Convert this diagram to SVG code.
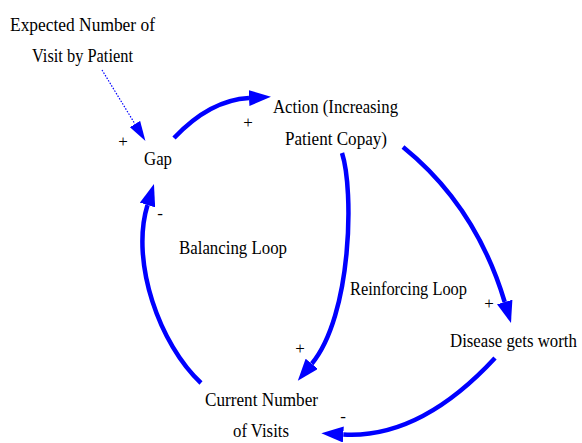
<svg xmlns="http://www.w3.org/2000/svg" width="582" height="443" viewBox="0 0 582 443">
<defs>
<style>
text{font-family:"Liberation Serif","Liberation Sans Narrow",serif;font-size:19px;fill:#000}
.sg{font-size:17px}
.arc{fill:none;stroke:#0000ff;stroke-width:4.5;marker-end:url(#ah)}
.dot{fill:none;stroke:#0000ff;stroke-width:1.2;stroke-dasharray:1.5 1.5;marker-end:url(#ahs)}
</style>
<marker id="ah" viewBox="0 0 22 16" refX="0" refY="8" markerWidth="22" markerHeight="16" markerUnits="userSpaceOnUse" orient="auto">
<path d="M0,0 L22,8 L0,16 Z" fill="#0000ff"/>
</marker>
<marker id="ahs" viewBox="0 0 20 12" refX="0" refY="6" markerWidth="20" markerHeight="12" markerUnits="userSpaceOnUse" orient="auto">
<path d="M0,0 L20,6 L0,12 Z" fill="#0000ff"/>
</marker>
</defs>
<rect width="582" height="443" fill="#fff"/>
<g id="connectors">
<path class="dot" d="M102,70 L135,124"/>
<path class="arc" d="M174,138 Q210,100 249,98"/>
<path class="arc" d="M403,147 Q476,206 504.7,302"/>
<path class="arc" d="M342,153 C354,190 352,315 311.8,363.8"/>
<path class="arc" d="M201,383 C160,345 130,262 147.5,205"/>
<path class="arc" d="M495,358 Q420,439 343.3,434.5"/>
</g>
<g id="expected">
<text x="10" y="31" textLength="145" lengthAdjust="spacingAndGlyphs">Expected Number of</text>
<text x="32" y="62" textLength="101" lengthAdjust="spacingAndGlyphs">Visit by Patient</text>
</g>
<g id="gap">
<text x="144" y="165" textLength="28" lengthAdjust="spacingAndGlyphs">Gap</text>
</g>
<g id="action">
<text x="273" y="113" textLength="125" lengthAdjust="spacingAndGlyphs">Action (Increasing</text>
<text x="285" y="145" textLength="102" lengthAdjust="spacingAndGlyphs">Patient Copay)</text>
</g>
<g id="disease">
<text transform="translate(450,347) scale(0.84,1)" x="0" y="0" textLength="151" lengthAdjust="spacingAndGlyphs">Disease gets worth</text>
</g>
<g id="current">
<text x="205" y="406" textLength="113" lengthAdjust="spacingAndGlyphs">Current Number</text>
<text x="233" y="437" textLength="56" lengthAdjust="spacingAndGlyphs">of Visits</text>
</g>
<g id="loops">
<text x="179" y="254" textLength="108" lengthAdjust="spacingAndGlyphs">Balancing Loop</text>
<text x="350" y="295" textLength="117" lengthAdjust="spacingAndGlyphs">Reinforcing Loop</text>
</g>
<g id="polarities">
<text class="sg" x="123" y="147" text-anchor="middle">+</text>
<text class="sg" x="248" y="128" text-anchor="middle">+</text>
<text class="sg" x="489" y="309" text-anchor="middle">+</text>
<text class="sg" x="300" y="354" text-anchor="middle">+</text>
<text class="sg" x="160" y="219" text-anchor="middle">-</text>
<text class="sg" x="343" y="422" text-anchor="middle">-</text>
</g>
</svg>
